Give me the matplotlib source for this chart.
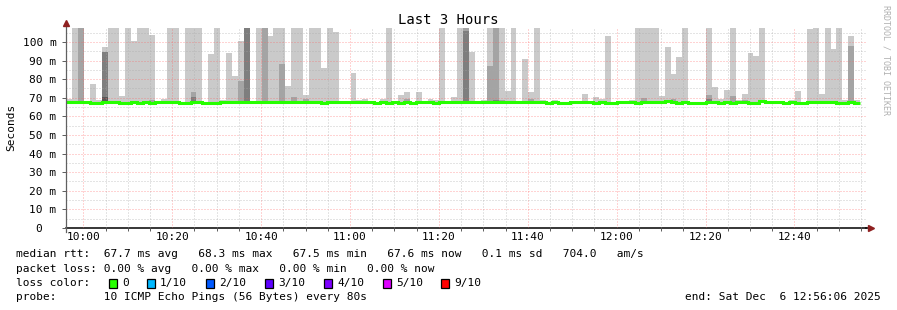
import numpy as np
import matplotlib
matplotlib.use('Agg')
import matplotlib.pyplot as plt
from matplotlib.ticker import MultipleLocator, FuncFormatter

# smokeping graph "Last 3 Hours": 10 pings every 80 s, one slot per 80 s
slot_start = "09:56:07"
slot_step = 80
view_start = "09:56:06"
view_end = "12:56:06"

# median rtt per slot, ms
median_rtt = [
    67.8, 67.8, 67.8, 67.8, 67.3, 67.3, 67.8, 67.8, 67.8, 67.3,
    67.3, 67.8, 67.3, 67.8, 67.3, 67.8, 67.8, 67.8, 67.8, 67.3,
    67.3, 67.8, 67.8, 67.3, 67.3, 67.3, 67.8, 67.8, 67.8, 67.8,
    67.8, 67.8, 67.8, 67.8, 67.8, 67.8, 67.8, 67.8, 67.8, 67.8,
    67.8, 67.8, 67.8, 67.3, 67.8, 67.8, 67.8, 67.8, 67.8, 67.8,
    67.8, 67.8, 67.3, 67.8, 67.3, 67.8, 67.3, 67.8, 67.3, 67.8,
    67.8, 67.8, 67.3, 67.8, 67.8, 67.8, 67.8, 67.8, 67.8, 67.8,
    67.8, 67.8, 67.8, 67.8, 67.8, 67.8, 67.8, 67.8, 67.8, 67.8,
    67.8, 67.3, 67.8, 67.3, 67.3, 67.8, 67.8, 67.8, 67.8, 67.3,
    67.8, 67.3, 67.3, 67.8, 67.8, 67.8, 67.3, 67.8, 67.8, 67.8,
    67.8, 68.3, 67.8, 67.3, 67.8, 67.3, 67.3, 67.3, 67.8, 67.8,
    67.3, 67.8, 67.3, 67.8, 67.8, 67.3, 67.3, 68.3, 67.8, 67.8,
    67.8, 67.3, 67.8, 67.3, 67.3, 67.8, 67.8, 67.8, 67.8, 67.8,
    67.3, 67.3, 67.8, 67.3,
]

# highest ping per slot (ms); None = nothing above the median, 110 = off the scale
ping_max = [
    69.2, 110, 110, None, 77.4, 68.8, 97.3, 110, 110, 71.0,
    110, 100.5, 110, 110, 103.9, None, 69.3, 110, 110, None,
    110, 110, 110, None, 93.5, 110, 69.0, 94.1, 81.7, 100.5,
    110, None, 110, 110, 103.2, 110, 110, 76.3, 110, 110,
    71.5, 110, 110, 86.0, 110, 105.4, None, None, 83.3, 68.8,
    69.3, None, None, 69.3, 110, None, 71.5, 73.1, None, 73.1,
    None, 69.3, 68.8, 110, None, 70.2, 110, 110, 94.6, None,
    68.8, 110, 110, 110, 73.7, 110, None, 90.9, 73.1, 110,
    68.8, None, 68.8, None, None, None, None, 72.0, None, 70.4,
    69.4, 103.2, None, None, None, 68.8, 110, 110, 110, 110,
    71.0, 97.3, 82.8, 91.9, 110, None, None, None, 110, 75.8,
    69.3, 74.2, 110, 69.0, 72.0, 94.1, 92.5, 110, None, None,
    None, None, 68.8, 73.7, None, 107.0, 110, 72.0, 110, 96.2,
    110, 68.8, 103.2, 68.8,
]

# 2nd, 3rd and 4th highest ping where they stand out (slot index -> ms)
ping_2nd = {2: 110, 6: 94.8, 14: 68.8, 18: 68.5, 21: 73.1, 29: 79.0, 30: 110,
            33: 110, 36: 88.2, 38: 70.4, 40: 69.4, 57: 69.4, 67: 110, 71: 87.1,
            72: 110, 73: 69.0, 78: 69.4, 97: 70.0, 102: 69.4, 108: 71.5,
            112: 71.0, 114: 68.8, 132: 97.8}
ping_3rd = {6: 94.6, 21: 70.4, 29: 68.5, 30: 110, 67: 105.9, 72: 69.0, 108: 69.4}
ping_4th = {6: 70.4}

stats_lines = [
    "median rtt:  67.7 ms avg   68.3 ms max   67.5 ms min   67.6 ms now   0.1 ms sd   704.0   am/s",
    "packet loss: 0.00 % avg   0.00 % max   0.00 % min   0.00 % now",
]
loss_labels = ['0', '1/10', '2/10', '3/10', '4/10', '5/10', '9/10']
loss_colors = ['#26ff00', '#00b8ff', '#0059ff', '#5e00ff', '#7e00ff', '#dd00ff', '#ff0000']
probe_text = "probe:       10 ICMP Echo Pings (56 Bytes) every 80s"
end_text = "end: Sat Dec  6 12:56:06 2025"


def secs(hms):
    h, m, s = map(int, hms.split(':'))
    return h * 3600 + m * 60 + s


plt.rcParams['font.family'] = 'DejaVu Sans Mono'
plt.rcParams['font.size'] = 8

W, H = 897, 310
fig = plt.figure(figsize=(W / 100, H / 100), dpi=100)
fig.patch.set_facecolor('white')
ax = fig.add_axes([66 / W, 1 - 228 / H, 800 / W, 200 / H])

med = np.array(median_rtt)
base = med - 0.4
edges = secs(slot_start) + slot_step * np.arange(len(med) + 1)


def smoke(idx, tops, color):
    idx = np.array(idx, dtype=int)
    tops = np.array(tops, dtype=float)
    ax.bar(edges[idx], tops - base[idx], bottom=base[idx], width=slot_step,
           align='edge', color=color, linewidth=0, antialiased=False, zorder=1)


idx = [i for i, v in enumerate(ping_max) if v is not None]
smoke(idx, [ping_max[i] for i in idx], '#cacaca')
for band, col in [(ping_2nd, '#a4a4a4'), (ping_3rd, '#7e7e7e'), (ping_4th, '#585858')]:
    k = sorted(band)
    smoke(k, [band[i] for i in k], col)

ax.stairs(med, edges, color='#26ff00', linewidth=2.2, zorder=3, baseline=None)

ax.set_xlim(secs(view_start), secs(view_end))
ax.set_ylim(0, 107.5)

ax.xaxis.set_major_locator(MultipleLocator(1200))
ax.xaxis.set_minor_locator(MultipleLocator(300))
ax.xaxis.set_major_formatter(FuncFormatter(
    lambda v, p: '%02d:%02d' % (int(v) // 3600, int(v) % 3600 // 60)))
ax.yaxis.set_major_locator(MultipleLocator(10))
ax.yaxis.set_minor_locator(MultipleLocator(5))
ax.yaxis.set_major_formatter(FuncFormatter(
    lambda v, p: '0  ' if v == 0 else '%d m' % round(v)))

ax.set_axisbelow(False)
ax.grid(which='major', color='#ff5f5f', alpha=0.55, linestyle=(0, (1, 2)), linewidth=0.72)
ax.grid(which='minor', color='#a8a8a8', alpha=0.6, linestyle=(0, (1, 2)), linewidth=0.72)

ax.tick_params(which='both', direction='out', colors='#606060', labelcolor='black',
               labelsize=8, width=0.72)
ax.tick_params(axis='x', which='major', length=0, pad=3)
ax.tick_params(axis='x', which='minor', length=2)
ax.tick_params(axis='y', which='major', length=3, pad=4)
ax.tick_params(axis='y', which='minor', length=0)

for side in ['top', 'right']:
    ax.spines[side].set_visible(False)
ax.spines['left'].set_visible(False)
ax.spines['bottom'].set_color('black')
ax.spines['bottom'].set_linewidth(1.1)
ax.plot([0, 0], [-0.02, 1.02], transform=ax.transAxes, color='#606060',
        linewidth=0.9, clip_on=False, zorder=5)
ax.plot([1.0, 1.006], [0, 0], transform=ax.transAxes, color='black',
        linewidth=1.1, clip_on=False, zorder=5)
ax.plot([0], [1.025], transform=ax.transAxes, marker='^', markersize=4,
        color='#8f2020', clip_on=False, zorder=6)
ax.plot([1.006], [0], transform=ax.transAxes, marker='>', markersize=4,
        color='#8f2020', clip_on=False, zorder=6)

fig.text(448.5 / W, 1 - 20 / H, 'Last 3 Hours', fontsize=10, ha='center', va='center')
fig.text(11 / W, 1 - 127 / H, 'Seconds', rotation=90, ha='center', va='center')
fig.text(886 / W, 1 - 60 / H, 'RRDTOOL / TOBI OETIKER', rotation=270, fontsize=6,
         color='#b0b0b0', ha='center', va='center')

# legend block
fig.text(16 / W, 1 - 254 / H, stats_lines[0], ha='left', va='center')
fig.text(16 / W, 1 - 268.5 / H, stats_lines[1], ha='left', va='center')
fig.text(16 / W, 1 - 283 / H, 'loss color:', ha='left', va='center')
box_x = [109, 147, 206, 265, 324, 383, 441]
for bx, lab, col in zip(box_x, loss_labels, loss_colors):
    fig.patches.append(plt.Rectangle((bx / W, 1 - 287.5 / H), 8 / W, 9 / H,
                                     transform=fig.transFigure, facecolor=col,
                                     edgecolor='black', linewidth=0.9))
    fig.text((bx + 13) / W, 1 - 283 / H, lab, ha='left', va='center')
fig.text(16 / W, 1 - 297 / H, probe_text, ha='left', va='center')
fig.text(881 / W, 1 - 297 / H, end_text, ha='right', va='center')

fig.savefig('out.png', dpi=100, facecolor='white')
